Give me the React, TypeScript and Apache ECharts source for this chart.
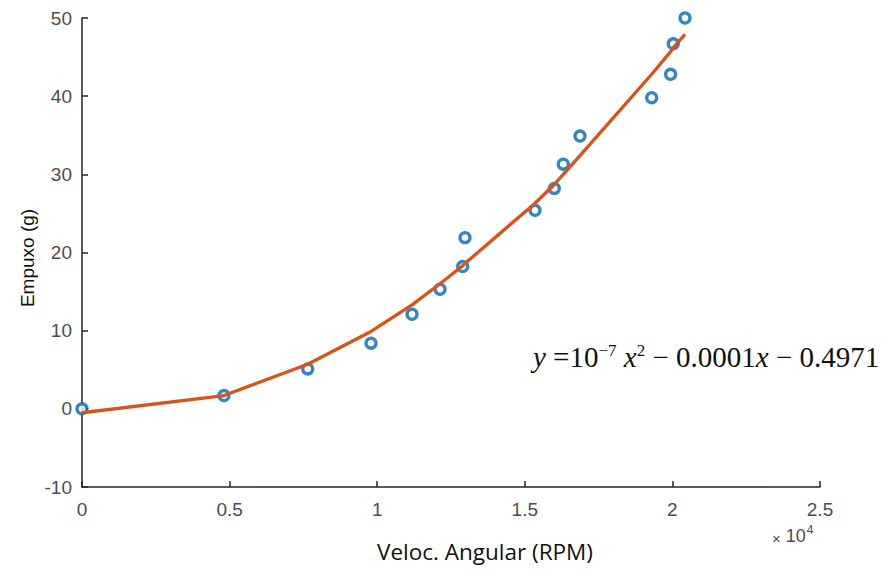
import React, { useEffect, useRef } from "react";
import * as echarts from "echarts";

const rpm = [0, 4810, 7646, 9790, 11180, 12127, 12896, 12974, 15346, 15999, 16304, 16870, 19298, 19939, 20030, 20427];
const thrust = [0, 1.7, 5.1, 8.4, 12.1, 15.3, 18.2, 21.9, 25.4, 28.2, 31.3, 34.9, 39.8, 42.8, 46.7, 50.0];
const fitted = [-0.5, 1.7, 5.7, 9.9, 13.3, 16.0, 18.3, 18.6, 26.3, 28.7, 30.0, 32.4, 42.8, 45.7, 46.2, 47.9];
const xTicks = ["0", "0.5", "1", "1.5", "2", "2.5"];
const yTicks = ["-10", "0", "10", "20", "30", "40", "50"];

export default function App() {
  const ref = useRef<HTMLDivElement>(null);
  useEffect(() => {
    if (!ref.current) return;
    const chart = echarts.init(ref.current, null, { renderer: "svg" });
    const axisColor = "#262626";
    const labelColor = "#4d4d4d";
    chart.setOption({
      animation: false,
      backgroundColor: "#ffffff",
      grid: { left: 82, right: 64, top: 18, bottom: 83, containLabel: false },
      xAxis: {
        type: "value",
        min: 0,
        max: 25000,
        interval: 5000,
        axisLine: { onZero: false, lineStyle: { color: axisColor, width: 1.5 } },
        axisTick: { inside: true, length: 6, lineStyle: { color: axisColor, width: 1.5 } },
        splitLine: { show: false },
        axisLabel: {
          color: labelColor,
          fontFamily: "Liberation Sans",
          fontSize: 19,
          margin: 13,
          formatter: (v: number) => xTicks[Math.round(v / 5000)] ?? "",
        },
      },
      yAxis: {
        type: "value",
        min: -10,
        max: 50,
        interval: 10,
        axisLine: { show: true, onZero: false, lineStyle: { color: axisColor, width: 1.5 } },
        axisTick: { show: true, inside: true, length: 6, lineStyle: { color: axisColor, width: 1.5 } },
        splitLine: { show: false },
        axisLabel: {
          color: labelColor,
          fontFamily: "Liberation Sans",
          fontSize: 19,
          margin: 10,
          formatter: (v: number) => (yTicks.includes(String(v)) ? String(v) : ""),
        },
      },
      series: [
        {
          type: "scatter",
          data: rpm.map((x, i) => [x, thrust[i]]),
          symbol: "circle",
          symbolSize: 10,
          clip: false,
          itemStyle: { color: "#ffffff", borderColor: "#0068B5", borderWidth: 3.3 },
          z: 2,
        },
        {
          type: "line",
          data: rpm.map((x, i) => [x, fitted[i]]),
          showSymbol: false,
          symbol: "none",
          lineStyle: { color: "#D95319", width: 3.3 },
          z: 3,
        },
      ],
      graphic: [
        {
          type: "text",
          x: 27,
          y: 258,
          rotation: Math.PI / 2,
          style: {
            text: "Empuxo (g)",
            fontFamily: "Liberation Sans",
            fontSize: 19,
            fill: "#111",
            align: "center",
            verticalAlign: "middle",
          },
        },
        {
          type: "text",
          x: 485,
          y: 551,
          style: {
            text: "Veloc. Angular (RPM)",
            fontFamily: "Open Sans",
            fontSize: 22.5,
            fill: "#111",
            align: "center",
            verticalAlign: "middle",
          },
        },
        {
          type: "text",
          x: 772,
          y: 536,
          style: {
            text: "{a|×}{c| 10}{b|4}",
            verticalAlign: "middle",
            rich: {
              a: { fontFamily: "Liberation Sans", fontSize: 15, fill: labelColor, padding: [4, 0, 0, 0] },
              c: { fontFamily: "Liberation Sans", fontSize: 18, fill: labelColor },
              b: { fontFamily: "Liberation Sans", fontSize: 12, fill: labelColor, padding: [0, 0, 12, 1] },
            },
          },
        },
        {
          type: "text",
          x: 533,
          y: 357,
          style: {
            text: "{i|y}{n| =10}{s|−7}{i| x}{s|2}{n| − 0.0001}{i|x}{n| − 0.4971}",
            verticalAlign: "middle",
            rich: {
              i: { fontFamily: "Liberation Serif", fontStyle: "italic", fontSize: 29, fill: "#111" },
              n: { fontFamily: "Liberation Serif", fontSize: 29, fill: "#111" },
              s: { fontFamily: "Liberation Serif", fontSize: 17, fill: "#111", padding: [0, 0, 14, 0] },
            },
          },
        },
      ],
    });
    return () => chart.dispose();
  }, []);
  return <div ref={ref} style={{ width: 884, height: 570, position: "absolute", left: 0, top: 0 }} />;
}
